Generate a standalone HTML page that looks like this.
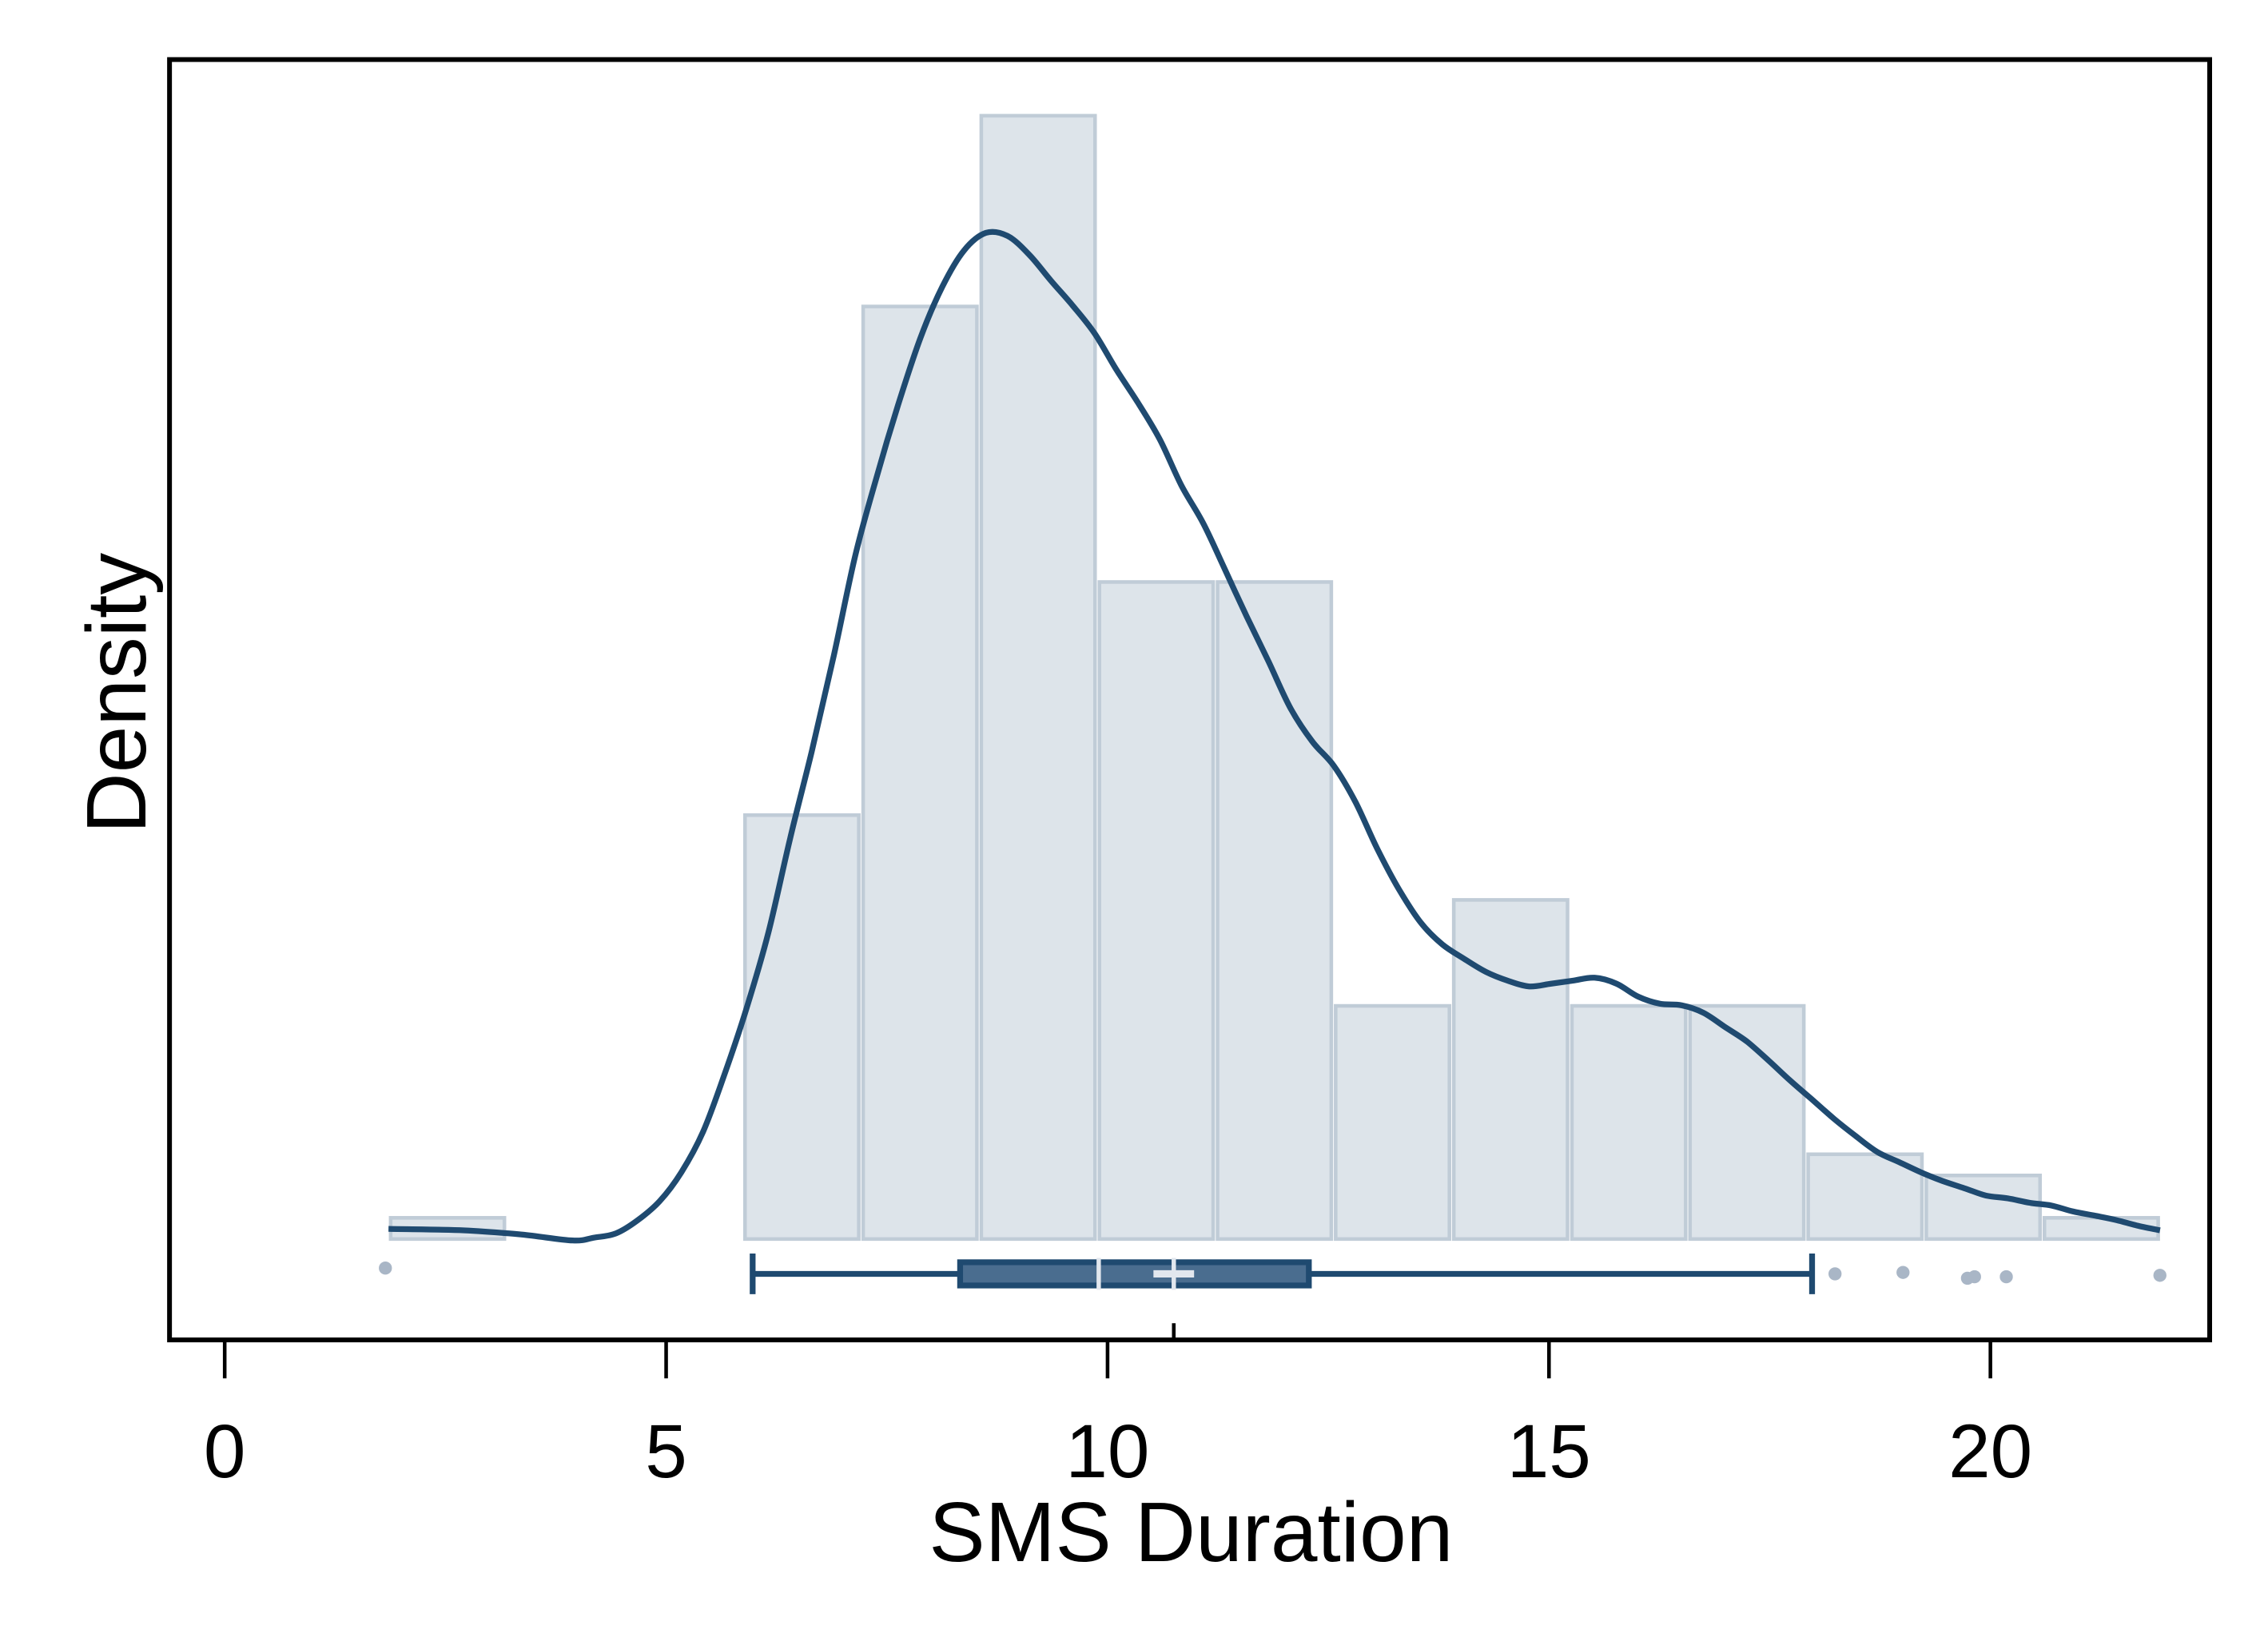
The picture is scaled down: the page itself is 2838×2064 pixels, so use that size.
<!DOCTYPE html>
<html><head><meta charset="utf-8"><style>html,body{margin:0;padding:0;background:#fff}svg{display:block}</style></head>
<body>
<svg id="chart" width="2838" height="2064" viewBox="0 0 2838 2064" xmlns="http://www.w3.org/2000/svg" font-family="'Liberation Sans', sans-serif">
<rect x="0" y="0" width="2838" height="2064" fill="#fff"/>
<g transform="translate(-5,-4.5) scale(1.817)">
<g id="bars"></g>
<g id="kde"></g>
<g id="box"></g>
<rect x="119.5" y="43.5" width="1405" height="882" fill="none" stroke="#000" stroke-width="3.3"/>
<g id="xaxis"></g>
<text x="823" y="1078" font-size="58" text-anchor="middle" fill="#000">SMS Duration</text>
<text transform="translate(103,480) rotate(-90)" font-size="58" text-anchor="middle" fill="#000">Density</text>
</g>
</svg>
<script>
const binStart = 1.855, binWidth = 1.338;
const binCounts = [1,0,0,20,44,53,31,31,11,16,11,11,4,3,1];
const kdeX = [1.856,2.709,3.366,3.941,4.187,4.433,4.680,4.926,5.172,5.419,5.665,5.911,6.158,6.404,6.650,6.897,7.143,7.389,7.635,7.882,8.128,8.374,8.621,8.867,9.113,9.360,9.606,9.852,10.099,10.345,10.591,10.837,11.084,11.330,11.576,11.823,12.069,12.315,12.562,12.808,13.054,13.300,13.547,13.793,14.039,14.286,14.532,14.778,15.025,15.271,15.517,15.764,16.010,16.256,16.502,16.749,16.995,17.241,17.488,17.734,17.980,18.227,18.473,18.719,18.966,19.212,19.458,19.704,19.951,20.197,20.443,20.690,20.936,21.182,21.429,21.675,21.921];
const kdeY = [0.48,0.41,0.21,-0.07,0.07,0.27,0.89,1.78,3.15,5.07,7.81,10.89,14.45,18.90,23.01,27.47,32.26,36.03,39.45,42.53,44.93,46.64,47.47,47.33,46.44,45.21,44.04,42.74,41.03,39.45,37.74,35.55,33.77,31.58,29.38,27.26,25.07,23.49,22.33,20.62,18.42,16.51,14.93,13.90,13.22,12.60,12.19,11.92,12.05,12.19,12.33,12.05,11.44,11.10,11.03,10.68,10.00,9.32,8.42,7.47,6.58,5.68,4.86,4.11,3.63,3.15,2.74,2.40,2.05,1.92,1.71,1.58,1.30,1.10,0.89,0.62,0.41];
const boxStats = [5.98, 8.33, 9.9, 12.28, 17.98];
const meanValue = 10.75;
const outliers = [1.82, 18.24, 19.01, 19.74, 19.82, 20.18, 21.92];
const outlierJitter = [-4, 0, -1, 3, 2, 2, 1];
const xTicks = [0, 5, 10, 15, 20];

const NS = "http://www.w3.org/2000/svg";
const X = v => 157.5 + v * 60.8;
const Y = v => 856 - v * 14.6;
function mk(parent, tag, attrs) {
  const e = document.createElementNS(NS, tag);
  for (const k in attrs) e.setAttribute(k, attrs[k]);
  document.getElementById(parent).appendChild(e);
  return e;
}
binCounts.forEach((c, i) => {
  if (c <= 0) return;
  const x0 = X(binStart + i * binWidth), x1 = X(binStart + (i + 1) * binWidth);
  const r = mk('bars', 'rect', {x: x0 + 1.5, y: Y(c), width: x1 - x0 - 3, height: Y(0) - Y(c), fill: '#dde4ea', stroke: '#c0ccd7', 'stroke-width': 2.5});
  
  
});
const pts = kdeX.map((v, i) => [X(v), Y(kdeY[i])]);
let d = 'M' + pts[0][0].toFixed(1) + ',' + pts[0][1].toFixed(1);
for (let i = 0; i < pts.length - 1; i++) {
  const p0 = pts[Math.max(0, i - 1)], p1 = pts[i], p2 = pts[i + 1], p3 = pts[Math.min(pts.length - 1, i + 2)];
  const c1 = [p1[0] + (p2[0] - p0[0]) / 6, p1[1] + (p2[1] - p0[1]) / 6];
  const c2 = [p2[0] - (p3[0] - p1[0]) / 6, p2[1] - (p3[1] - p1[1]) / 6];
  d += ' C' + c1[0].toFixed(1) + ',' + c1[1].toFixed(1) + ' ' + c2[0].toFixed(1) + ',' + c2[1].toFixed(1) + ' ' + p2[0].toFixed(1) + ',' + p2[1].toFixed(1);
}
const kp = mk('kde', 'path', {d: d, fill: 'none', stroke: '#1f4a70', 'stroke-width': 4, 'stroke-linejoin': 'round'});


const by = 880;
const wl = mk('box', 'line', {x1: X(boxStats[0]), x2: X(boxStats[4]), y1: by, y2: by, stroke: '#1f4a70', 'stroke-width': 4});


[boxStats[0], boxStats[4]].forEach(v => {
  const c = mk('box', 'line', {x1: X(v), x2: X(v), y1: 866, y2: 894, stroke: '#1f4a70', 'stroke-width': 4});
  
  
});
const bx = mk('box', 'rect', {x: X(boxStats[1]), y: 872, width: X(boxStats[3]) - X(boxStats[1]), height: 16, fill: '#4a6d8f', stroke: '#1f4a70', 'stroke-width': 4});


const md = mk('box', 'line', {x1: X(boxStats[2]), x2: X(boxStats[2]), y1: 869, y2: 891, stroke: '#e2e7ee', 'stroke-width': 3});


const mv = mk('box', 'line', {x1: X(meanValue), x2: X(meanValue), y1: 869, y2: 891, stroke: '#e2e7ee', 'stroke-width': 3});


const mh = mk('box', 'line', {x1: X(meanValue) - 14, x2: X(meanValue) + 14, y1: by, y2: by, stroke: '#e2e7ee', 'stroke-width': 5});


const mt = mk('box', 'line', {x1: X(meanValue), x2: X(meanValue), y1: 914, y2: 927, stroke: '#000', 'stroke-width': 2.5});


outliers.forEach((v, i) => {
  const c = mk('box', 'circle', {cx: X(v), cy: by + outlierJitter[i], r: 4.5, fill: '#a9b6c6'});
  
  
});
xTicks.forEach(t => {
  const l = mk('xaxis', 'line', {x1: X(t), x2: X(t), y1: 927, y2: 952, stroke: '#000', 'stroke-width': 2.5});
  
  
  const tx = mk('xaxis', 'text', {x: X(t), y: 1020, 'font-size': 52, 'text-anchor': 'middle', fill: '#000'});
  tx.textContent = t;
  
  
});
</script>
</body></html>
